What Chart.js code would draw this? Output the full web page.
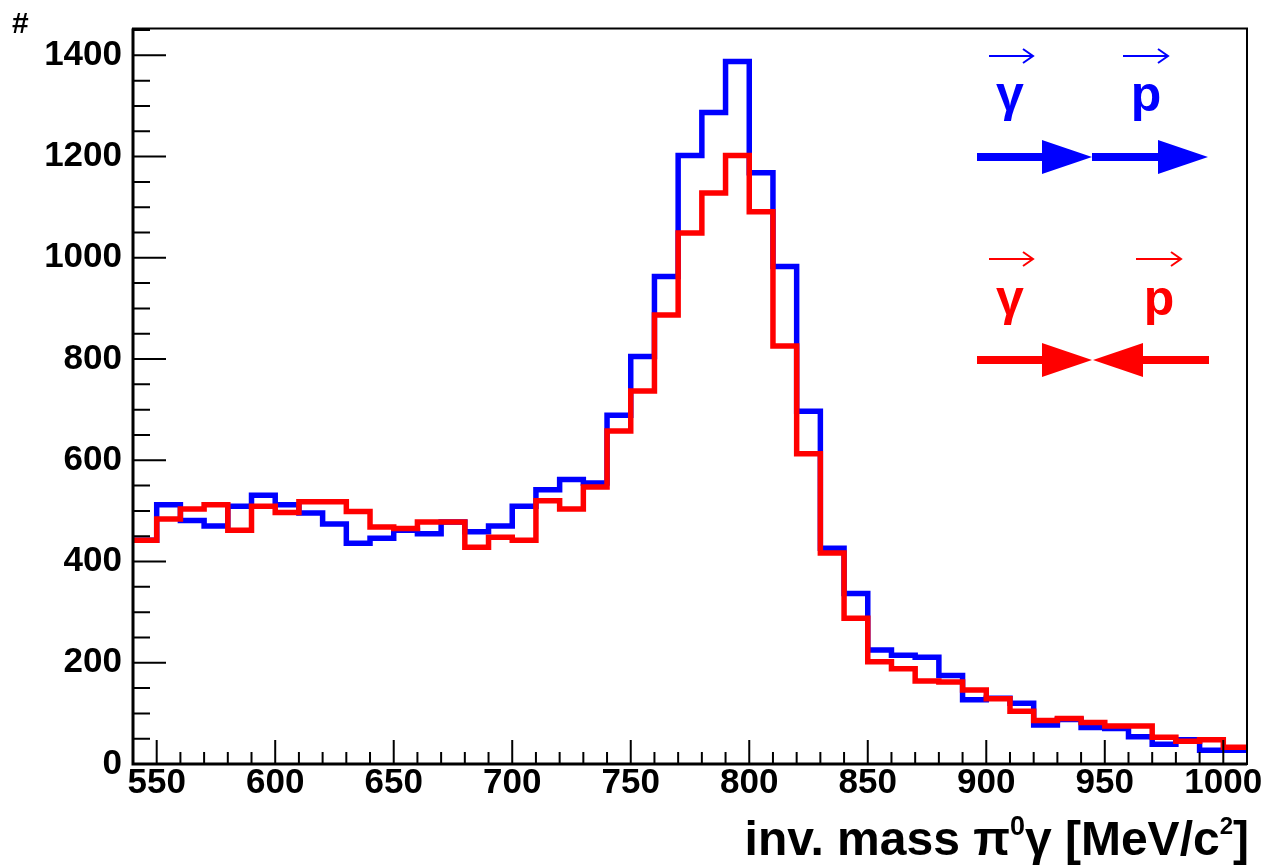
<!DOCTYPE html>
<html>
<head>
<meta charset="utf-8">
<script src="https://cdn.jsdelivr.net/npm/chart.js@4.4.1/dist/chart.umd.min.js"></script>
<style>
  html, body { margin: 0; padding: 0; background: #ffffff; }
  canvas { display: block; }
</style>
</head>
<body>
<canvas id="massChart" width="1268" height="866"></canvas>
<script>
// lower edges of the 10 MeV bins, plus the upper end of the last bin
const binEdges = [540, 550, 560, 570, 580, 590, 600, 610, 620, 630,
                  640, 650, 660, 670, 680, 690, 700, 710, 720, 730,
                  740, 750, 760, 770, 780, 790, 800, 810, 820, 830,
                  840, 850, 860, 870, 880, 890, 900, 910, 920, 930,
                  940, 950, 960, 970, 980, 990, 1000];
const lastEdge = 1010;

// photon and proton spins parallel (blue)
const countsParallel = [442, 512, 481, 470, 509, 531, 512, 496, 474, 436,
                        446, 462, 455, 478, 459, 470, 509, 542, 562, 555,
                        689, 805, 963, 1202, 1287, 1388, 1168, 983, 697, 426,
                        337, 225, 215, 211, 175, 127, 130, 120, 77, 88,
                        72, 70, 54, 39, 48, 27, 27];
// spins antiparallel (red)
const countsAnti = [442, 484, 504, 512, 462, 509, 497, 518, 518, 499,
                    468, 465, 478, 478, 428, 448, 442, 520, 504, 547,
                    658, 737, 887, 1049, 1128, 1202, 1091, 826, 613, 417,
                    288, 202, 188, 164, 162, 146, 129, 104, 86, 90,
                    82, 75, 75, 53, 45, 48, 33];

const xTickLabels = [550, 600, 650, 700, 750, 800, 850, 900, 950, 1000];
const yTickLabels = [0, 200, 400, 600, 800, 1000, 1200, 1400];
const yMax = 1453;

const FONT = "'Liberation Sans', Arial, Helvetica, sans-serif";

function histPoints(counts) {
    const pts = binEdges.map((x, i) => ({ x: x, y: counts[i] }));
    pts.push({ x: lastEdge, y: counts[counts.length - 1] });
    return pts;
}

// ROOT style frame with inward ticks
const rootFrame = {
    id: 'rootFrame',
    afterDatasetsDraw(chart) {
        const ctx = chart.ctx;
        const a = chart.chartArea;
        const xs = chart.scales.x;
        const ys = chart.scales.y;
        ctx.save();
        ctx.strokeStyle = '#000';
        ctx.lineCap = 'butt';

        // ticks
        ctx.lineWidth = 2;
        ctx.beginPath();
        for (let v = 540; v <= 1010; v += 10) {
            const px = xs.getPixelForValue(v);
            const len = (v % 50 === 0) ? 24 : 12;
            ctx.moveTo(px, a.bottom);
            ctx.lineTo(px, a.bottom - len);
        }
        for (let v = 0; v <= yMax; v += 50) {
            const py = ys.getPixelForValue(v);
            const len = (v % 200 === 0) ? 33 : 17;
            ctx.moveTo(a.left, py);
            ctx.lineTo(a.left + len, py);
        }
        ctx.stroke();

        // frame
        ctx.lineWidth = 2;
        ctx.strokeRect(a.left, a.top, a.right - a.left, a.bottom - a.top);
        ctx.lineWidth = 3;
        ctx.beginPath();
        ctx.moveTo(a.left, a.top);
        ctx.lineTo(a.left, a.bottom);
        ctx.lineTo(a.right, a.bottom);
        ctx.stroke();
        ctx.restore();
    },
    afterDraw(chart) {
        const ctx = chart.ctx;
        ctx.save();
        ctx.fillStyle = '#000';
        ctx.textBaseline = 'alphabetic';
        ctx.textAlign = 'left';

        // y axis title
        ctx.font = 'bold 30px ' + FONT;
        ctx.fillText('#', 12, 33);

        // x axis title with superscripts, right aligned to the frame
        const parts = [
            ['inv. mass \u03c0', 48, 0],
            ['0', 27, -20],
            ['\u03b3 [MeV/c', 48, 0],
            ['2', 24, -21],
            [']', 48, 0]
        ];
        let total = 0;
        parts.forEach(p => { ctx.font = 'bold ' + p[1] + 'px ' + FONT; total += ctx.measureText(p[0]).width; });
        let x = 1249 - total;
        parts.forEach(p => {
            ctx.font = 'bold ' + p[1] + 'px ' + FONT;
            ctx.fillText(p[0], x, 855 + p[2]);
            x += ctx.measureText(p[0]).width;
        });

        // legend: beam/target polarisation sketches
        drawPair(ctx, '#0000ff', 56, 111, 157, [1010, 1146], false);
        drawPair(ctx, '#ff0000', 259, 315, 360, [1010, 1159], true);
        ctx.restore();
    }
};

function vecArrow(ctx, x0, x1, y) {
    ctx.lineWidth = 2;
    ctx.beginPath();
    ctx.moveTo(x0, y);
    ctx.lineTo(x1, y);
    ctx.moveTo(x1 - 10, y - 7);
    ctx.lineTo(x1, y);
    ctx.lineTo(x1 - 10, y + 7);
    ctx.stroke();
}

function bigArrow(ctx, from, tip, y) {
    const dir = tip > from ? 1 : -1;
    const base = tip - dir * 50;
    ctx.lineWidth = 8;
    ctx.beginPath();
    ctx.moveTo(from, y);
    ctx.lineTo(base, y);
    ctx.stroke();
    ctx.beginPath();
    ctx.moveTo(base, y - 17);
    ctx.lineTo(tip, y);
    ctx.lineTo(base, y + 17);
    ctx.closePath();
    ctx.fill();
}

function drawPair(ctx, color, vecY, textY, arrowY, centers, opposite) {
    ctx.fillStyle = color;
    ctx.strokeStyle = color;
    ctx.font = 'bold 50px ' + FONT;
    ctx.textAlign = 'center';
    ctx.fillText('\u03b3', centers[0], textY);
    ctx.fillText('p', centers[1], textY);
    vecArrow(ctx, centers[0] - 21, centers[0] + 23, vecY);
    vecArrow(ctx, centers[1] - 23, centers[1] + 22, vecY);
    bigArrow(ctx, 977, 1092, arrowY);
    if (opposite) {
        bigArrow(ctx, 1209, 1093, arrowY);
    } else {
        bigArrow(ctx, 1092, 1208, arrowY);
    }
}

const ctx = document.getElementById('massChart').getContext('2d');
new Chart(ctx, {
    type: 'line',
    data: {
        datasets: [{
            label: 'antiparallel',
            data: histPoints(countsAnti),
            borderColor: '#ff0000',
            borderWidth: 5.5,
            stepped: 'before',
            pointRadius: 0,
            fill: false,
            borderJoinStyle: 'miter'
        }, {
            label: 'parallel',
            data: histPoints(countsParallel),
            borderColor: '#0000ff',
            borderWidth: 5.5,
            stepped: 'before',
            pointRadius: 0,
            fill: false,
            borderJoinStyle: 'miter'
        }]
    },
    options: {
        responsive: false,
        animation: false,
        devicePixelRatio: 1,
        layout: { padding: { top: 12, right: 21, left: 0, bottom: 0 } },
        plugins: {
            legend: { display: false },
            tooltip: { enabled: false },
            title: { display: false }
        },
        scales: {
            x: {
                type: 'linear',
                min: 540,
                max: lastEdge,
                grid: { display: false, drawTicks: false },
                border: { display: false },
                afterBuildTicks: s => { s.ticks = xTickLabels.map(v => ({ value: v })); },
                afterFit: s => { s.height = 102; },
                ticks: {
                    color: '#000',
                    padding: 2,
                    maxRotation: 0,
                    autoSkip: false,
                    callback: v => String(v),
                    font: { family: FONT, size: 35, weight: 'bold', lineHeight: 1 }
                }
            },
            y: {
                min: 0,
                max: yMax,
                grid: { display: false, drawTicks: false },
                border: { display: false },
                afterBuildTicks: s => { s.ticks = yTickLabels.map(v => ({ value: v })); },
                afterFit: s => { s.width = 133; },
                ticks: {
                    color: '#000',
                    padding: 11,
                    autoSkip: false,
                    callback: v => String(v),
                    font: { family: FONT, size: 35, weight: 'bold', lineHeight: 1 }
                }
            }
        }
    },
    plugins: [rootFrame]
});
</script>
</body>
</html>
